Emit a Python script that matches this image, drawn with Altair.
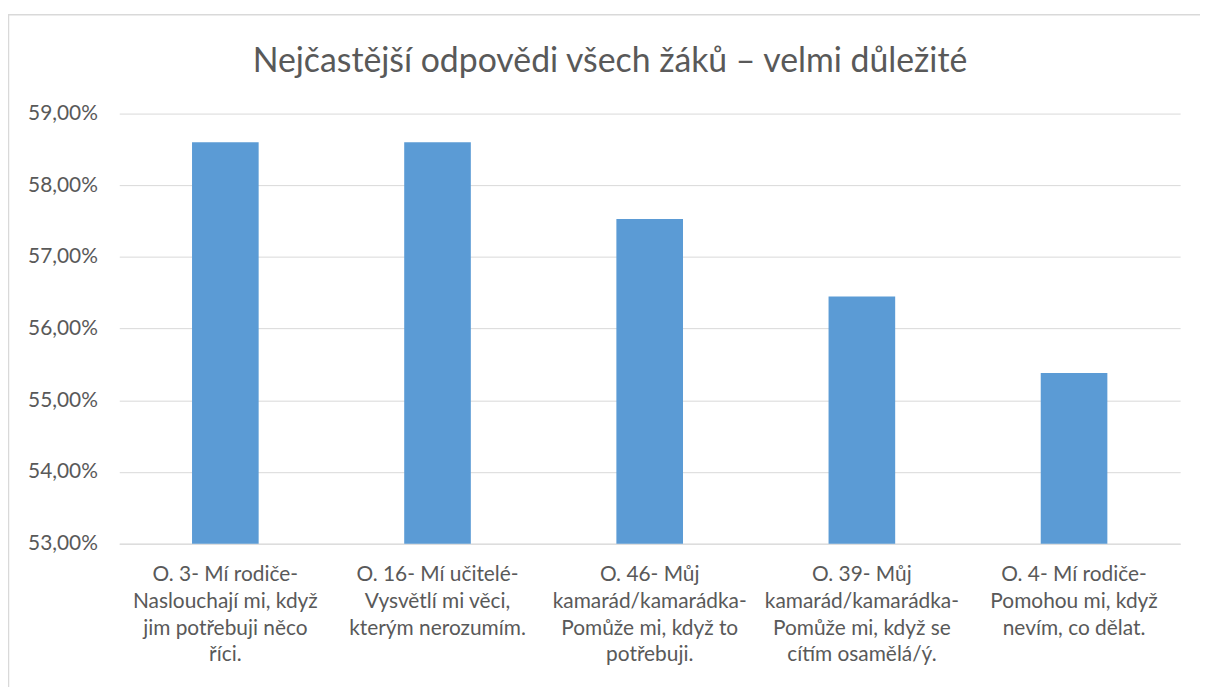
import altair as alt
import pandas as pd

categories = [
    "O. 3- Mí rodiče-\nNaslouchají mi, když\njim potřebuji něco\nříci.",
    "O. 16- Mí učitelé-\nVysvětlí mi věci,\nkterým nerozumím.",
    "O. 46- Můj\nkamarád/kamarádka-\nPomůže mi, když to\npotřebuji.",
    "O. 39- Můj\nkamarád/kamarádka-\nPomůže mi, když se\ncítím osamělá/ý.",
    "O. 4- Mí rodiče-\nPomohou mi, když\nnevím, co dělat.",
]
values = [0.5860, 0.5860, 0.5753, 0.5645, 0.5538]
y_ticks = [0.53, 0.54, 0.55, 0.56, 0.57, 0.58, 0.59]
y_min, y_max = 0.53, 0.59
title_text = "Nejčastější odpovědi všech žáků – velmi důležité"

df = pd.DataFrame({"cat": categories, "val": values})
title_df = pd.DataFrame({"t": [title_text]})
FONT = "Lato"
GREY = "#595959"

frame = alt.Chart(title_df).mark_rect(filled=False, stroke="#d9d9d9", strokeWidth=1.5).encode(
    x=alt.value(-111.5), x2=alt.value(1200), y=alt.value(-99.5), y2=alt.value(700)
)

title = alt.Chart(title_df).mark_text(
    font=FONT, fontSize=34, color=GREY, align="center", baseline="middle"
).encode(text="t:N", x=alt.value(494), y=alt.value(-52))

bars = alt.Chart(df).mark_bar(color="#5b9bd5").encode(
    x=alt.X("cat:N", sort=categories, title=None,
            scale=alt.Scale(paddingInner=0.686, paddingOuter=0.343),
            axis=alt.Axis(labelAngle=0, labelExpr="split(datum.label, '\\n')",
                          labelFont=FONT, labelFontSize=21, labelColor=GREY,
                          labelLineHeight=27, labelPadding=20, ticks=False,
                          domainColor="#d9d9d9", domainWidth=1, labelLimit=300)),
    y=alt.Y("val:Q", title=None,
            scale=alt.Scale(domain=[y_min, y_max], zero=False, nice=False),
            axis=alt.Axis(values=y_ticks, labelExpr="replace(format(datum.value, '.2%'), '.', ',')",
                          labelFont=FONT, labelFontSize=21, labelColor=GREY,
                          labelPadding=22, ticks=False, domain=False,
                          gridColor="#d9d9d9", gridWidth=1)),
    y2=alt.datum(y_min),
)

chart = alt.layer(frame, bars, title).properties(
    width=1068, height=433,
    autosize=alt.AutoSizeParams(type="none"),
    padding={"left": 112, "top": 104, "right": 20, "bottom": 150},
).configure_view(stroke=None)

chart.save("out.html", embed_options={"renderer": "svg", "actions": False})
